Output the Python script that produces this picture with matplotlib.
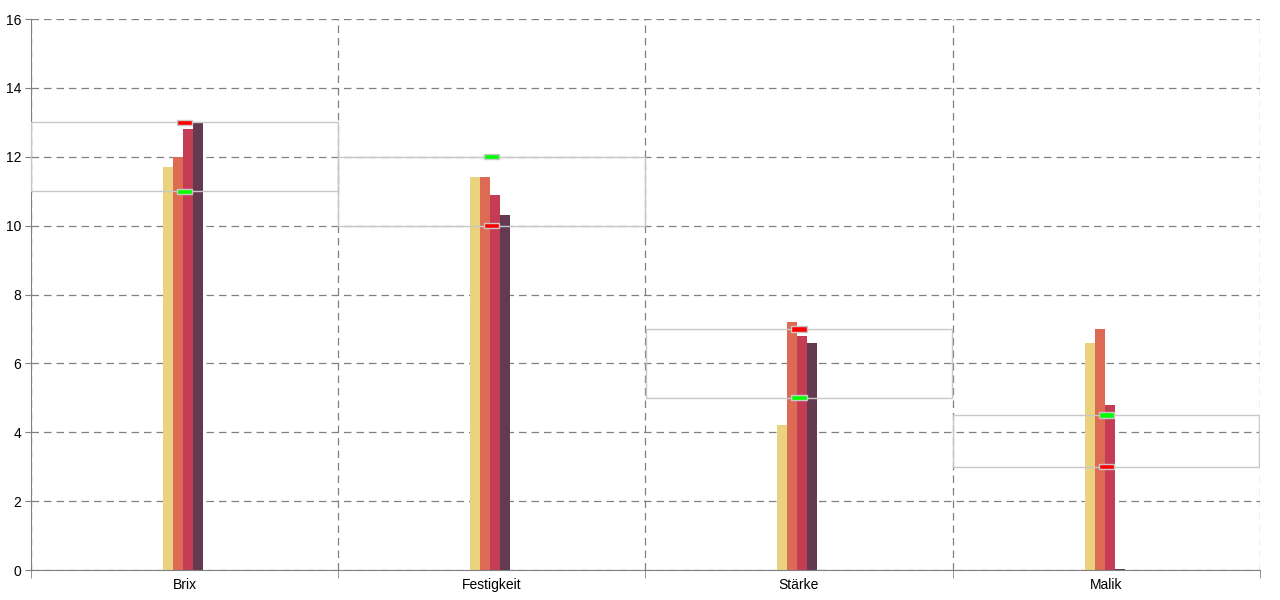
import numpy as np
import matplotlib.pyplot as plt
from matplotlib.ticker import FixedLocator

plt.rcParams['font.family'] = ['Liberation Sans', 'DejaVu Sans']

categories = ['Brix', 'Festigkeit', 'Stärke', 'Malik']
series1 = [11.7, 11.4, 4.2, 6.6]
series2 = [12.0, 11.4, 7.2, 7.0]
series3 = [12.8, 10.9, 6.8, 4.8]
series4 = [13.0, 10.3, 6.6, 0.03]
band_low = [11, 10, 5, 3]
band_high = [13, 12, 7, 4.5]
red_mark = [13, 10, 7, 3]
green_mark = [11, 12, 5, 4.5]

colors = ['#EBD27F', '#DD6A53', '#C43D55', '#633A4F']

fig = plt.figure(figsize=(12.8, 6), dpi=100)
ax = fig.add_axes([0.0242, 0.05, 0.9600, 0.9183])

x = np.arange(len(categories))
bw = 0.0326
for i, s in enumerate([series1, series2, series3, series4]):
    ax.bar(x - 0.005 + (i - 1.5) * bw, s, width=bw, color=colors[i], zorder=2)

# range bands
lo = np.array(band_low)
hi = np.array(band_high)
ax.bar(x, hi - lo, bottom=lo, width=0.998, fill=False, edgecolor='#c8c8c8',
       linewidth=1, zorder=3)

# target markers
mw, mh = 0.049, 0.15
ax.bar(x, mh, bottom=np.array(red_mark) - mh / 2, width=mw, color='#ff0000',
       edgecolor='#c8c8c8', linewidth=1, zorder=4)
ax.bar(x, mh, bottom=np.array(green_mark) - mh / 2, width=mw, color='#00ff00',
       edgecolor='#c8c8c8', linewidth=1, zorder=4)

ax.set_xlim(-0.5, 3.5)
ax.set_ylim(0, 16)
ax.set_yticks(np.arange(0, 17, 2))
ax.set_xticks(x)
ax.set_xticklabels(categories)
ax.xaxis.set_minor_locator(FixedLocator(np.arange(-0.5, 4, 1)))
ax.tick_params(axis='x', which='major', length=0, pad=6, labelsize=10, colors='#000000')
ax.tick_params(axis='x', which='minor', length=6, color='#808080')
ax.tick_params(axis='y', length=4, color='#808080', labelsize=10, pad=3)

ax.grid(True, axis='y', which='major', linestyle=(0, (6, 4)), color='#808080', linewidth=0.9, zorder=0)
ax.grid(True, axis='x', which='minor', linestyle=(0, (6, 4)), color='#808080', linewidth=0.9, zorder=0)
ax.grid(False, axis='x', which='major')
ax.set_axisbelow(True)

for sp in ['top', 'right']:
    ax.spines[sp].set_visible(False)
for sp in ['left', 'bottom']:
    ax.spines[sp].set_color('#808080')

plt.savefig('out.png', dpi=100)
